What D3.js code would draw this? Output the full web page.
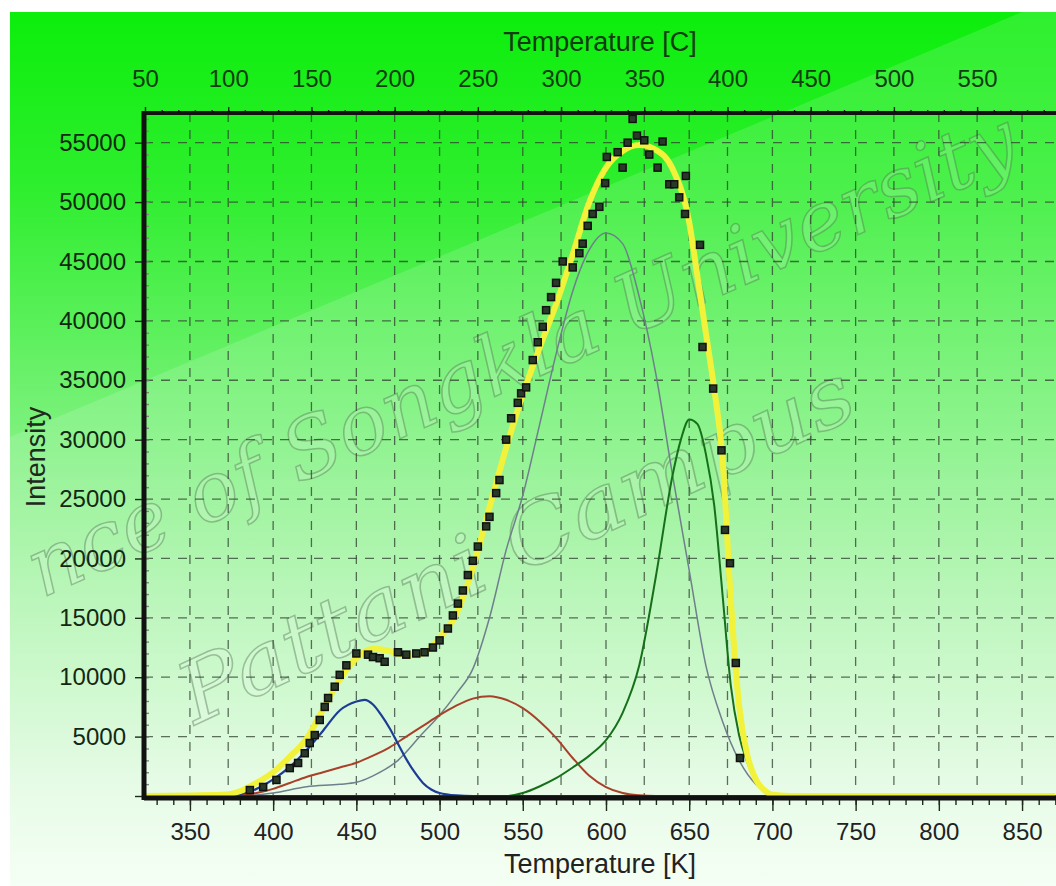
<!DOCTYPE html>
<html lang="en">
<head>
	<meta charset="UTF-8">
	<title>TL glow curve</title>
	<script src="https://d3js.org/d3.v7.min.js"></script>
	<style>
		body, html { margin: 0; padding: 0; background: #fff; overflow: hidden; }
		svg { display: block; }
		.tick-label { font-family: "Liberation Sans", Arial, sans-serif; font-size: 24px; }
		.title { font-family: "Liberation Sans", Arial, sans-serif; font-size: 27px; }
		.grid line { stroke: #2f3f2f; stroke-opacity: 0.75; stroke-width: 1.3; stroke-dasharray: 9,8; }
		.watermark { font-family: "DejaVu Serif", serif; font-style: italic; fill: #ffffff; fill-opacity: 0.14;
			stroke: #4f6f4f; stroke-opacity: 0.42; stroke-width: 1.5; }
	</style>
</head>
<body>
<div id="chart"></div>
<script>
	// tick values
	const kTicks = [350, 400, 450, 500, 550, 600, 650, 700, 750, 800, 850];
	const cTicks = [50, 100, 150, 200, 250, 300, 350, 400, 450, 500, 550];
	const yTicks = [5000, 10000, 15000, 20000, 25000, 30000, 35000, 40000, 45000, 50000, 55000];

	// measured points [K, intensity]
	const measured = [
		[386, 500], [394, 760], [402, 1350], [410, 2350], [415, 2780], [419, 3600], [422, 4460],
		[425, 5130], [428, 6400], [431, 7500], [433, 8250], [437, 9200], [440, 10200], [444, 11000],
		[450, 12000], [457, 11900], [460, 11700], [464, 11600], [467, 11300], [475, 12100], [480, 11900],
		[486, 12000], [491, 12100], [496, 12500], [500, 13100], [505, 14100], [508, 15200], [511, 16200],
		[514, 17300], [517, 18600], [520, 19800], [523, 21000], [528, 22700], [530, 23500], [534, 25500],
		[536, 26600], [540, 30000], [543, 31800], [547, 33100], [549, 33900], [552, 34400], [556, 36700],
		[559, 38200], [562, 39500], [564, 40900], [567, 42000], [570, 43200], [574, 45000], [580, 44500],
		[584, 45700], [586, 46500], [589, 48000], [592, 49000], [596, 49600], [599.5, 51600], [600.5, 53800],
		[607, 54200], [610, 52900], [613, 55000], [616, 57000], [618.6, 55600], [623, 55200], [626, 54000],
		[631, 52900], [634, 55100], [638, 51500], [641, 51500], [644, 50400], [647.5, 49000], [648, 52200],
		[656.5, 46400], [658, 37800], [664.4, 34300], [669.4, 29100], [671.5, 22400], [674.5, 19600],
		[678, 11200], [680.5, 3200]
	];

	// fitted sum
	const fitCurve = [
		[322, 0], [370, 100], [380, 400], [390, 1100], [400, 2000], [410, 3300], [420, 4800], [430, 7300],
		[440, 9800], [450, 11600], [460, 12400], [470, 12200], [480, 11800], [490, 12000], [500, 13300],
		[510, 15300], [520, 19200], [530, 24300], [540, 29300], [550, 33800], [560, 37700], [570, 41400],
		[580, 45600], [590, 50000], [600, 52900], [610, 54300], [620, 54800], [630, 54400], [640, 52800],
		[650, 48300], [655, 43700], [660, 39000], [665, 34300], [670, 28500], [675, 16500], [680, 7600],
		[685, 3400], [690, 1400], [695, 500], [700, 100], [710, 0], [870, 0]
	];

	// component peaks
	const peakBlue = [
		[322, 0], [370, 0], [380, 150], [390, 600], [400, 1400], [410, 2450], [420, 3850], [430, 5500],
		[440, 7200], [450, 7950], [455, 8100], [460, 7700], [465, 6800], [470, 5700], [475, 4400],
		[480, 3100], [485, 2000], [490, 1100], [495, 550], [500, 250], [510, 50], [520, 0], [870, 0]
	];
	const peakRed = [
		[322, 0], [375, 0], [380, 80], [390, 250], [400, 600], [410, 1100], [420, 1600], [430, 2000],
		[440, 2400], [450, 2800], [460, 3400], [470, 4100], [480, 5000], [490, 5900], [500, 6800],
		[510, 7600], [520, 8200], [530, 8400], [540, 8100], [550, 7400], [560, 6300], [570, 4900],
		[580, 3200], [590, 1700], [600, 750], [610, 250], [620, 60], [630, 0], [870, 0]
	];
	const peakGray = [
		[322, 0], [380, 0], [400, 250], [420, 780], [440, 980], [450, 1150], [460, 1700], [475, 3000],
		[490, 5300], [500, 6800], [510, 8600], [520, 10700], [530, 15000], [540, 20700], [550, 25300],
		[560, 31200], [570, 37200], [580, 42500], [590, 46000], [600, 47400], [610, 46500], [620, 42000],
		[630, 35500], [640, 27000], [650, 19000], [660, 11000], [670, 6300], [680, 3000], [690, 1000],
		[700, 200], [710, 0], [870, 0]
	];
	const peakGreen = [
		[322, 0], [540, 0], [550, 250], [560, 800], [570, 1500], [580, 2400], [590, 3400], [600, 4700],
		[610, 7000], [620, 11000], [630, 18500], [640, 27000], [645, 30000], [650, 31700], [655, 31300],
		[660, 28800], [665, 24500], [670, 17000], [675, 9300], [680, 5100], [685, 2800], [690, 1200],
		[695, 400], [700, 0], [870, 0]
	];

	const width = 1056, height = 886;
	const plot = { left: 144, top: 113, right: 1056, bottom: 796 };

	const x = d3.scaleLinear().domain([322.4, 870.4]).range([plot.left, plot.right]);
	const y = d3.scaleLinear().domain([0, 57500]).range([plot.bottom, plot.top]);
	const xc = d3.scaleLinear().domain([322.4 - 273, 870.4 - 273]).range([plot.left, plot.right]);

	const svg = d3.select("#chart").append("svg")
		.attr("width", width)
		.attr("height", height);

	// background: green fading to white, with a lighter glossy wedge
	const defs = svg.append("defs");
	const grad = defs.append("linearGradient").attr("id", "bg")
		.attr("x1", 0).attr("y1", 0).attr("x2", 0).attr("y2", 1);
	[["0%", "#0cee0c"], ["20%", "#2eee2e"], ["45%", "#74f174"], ["68%", "#b2f5b2"], ["88%", "#e2fbe2"], ["100%", "#f4fff4"]]
		.forEach(s => grad.append("stop").attr("offset", s[0]).attr("stop-color", s[1]));

	svg.append("rect").attr("width", width).attr("height", height).attr("fill", "#fff");
	svg.append("rect").attr("x", 10).attr("y", 12).attr("width", width - 10).attr("height", height - 12)
		.attr("fill", "url(#bg)");
	svg.append("path")
		.attr("d", "M10,437 L1022,12 L1056,12 L1056,886 L10,886 Z")
		.attr("fill", "#fff").attr("fill-opacity", 0.14);

	defs.append("clipPath").attr("id", "clip")
		.append("rect").attr("x", plot.left).attr("y", plot.top).attr("width", plot.right - plot.left).attr("height", plot.bottom - plot.top + 4);

	// watermark (only the part that shows in the frame)
	svg.append("text").attr("class", "watermark")
		.attr("transform", "translate(42,598) rotate(-24)")
		.attr("font-size", 82)
		.attr("textLength", 1075).attr("lengthAdjust", "spacingAndGlyphs")
		.text("nce of Songkla University");
	svg.append("text").attr("class", "watermark")
		.attr("transform", "translate(195,725) rotate(-25)")
		.attr("font-size", 84)
		.attr("textLength", 735).attr("lengthAdjust", "spacingAndGlyphs")
		.text("Pattani Campus");

	// grid
	const grid = svg.append("g").attr("class", "grid");
	grid.selectAll(".gy").data(yTicks).enter().append("line")
		.attr("x1", plot.left).attr("x2", plot.right)
		.attr("y1", d => y(d)).attr("y2", d => y(d));
	grid.selectAll(".gk").data(kTicks).enter().append("line")
		.attr("x1", d => x(d)).attr("x2", d => x(d))
		.attr("y1", plot.top).attr("y2", plot.bottom);
	grid.selectAll(".gc").data(cTicks.slice(1)).enter().append("line")
		.attr("x1", d => xc(d)).attr("x2", d => xc(d))
		.attr("y1", plot.top).attr("y2", plot.bottom);

	// axes
	const bottomMajor = svg.append("g").attr("transform", `translate(0,${plot.bottom + 2})`)
		.call(d3.axisBottom(x).tickValues(kTicks).tickSize(13).tickPadding(12));
	const bottomMinor = svg.append("g").attr("transform", `translate(0,${plot.bottom + 2})`)
		.call(d3.axisBottom(x).tickValues(d3.range(330, 871, 10)).tickSize(7).tickFormat(""));
	const topMajor = svg.append("g").attr("transform", `translate(0,${plot.top})`)
		.call(d3.axisTop(xc).tickValues(cTicks).tickSize(6).tickPadding(20));
	const topMinor = svg.append("g").attr("transform", `translate(0,${plot.top})`)
		.call(d3.axisTop(xc).tickValues(d3.range(60, 598, 10)).tickSize(3).tickFormat(""));
	const leftMajor = svg.append("g").attr("transform", `translate(${plot.left},0)`)
		.call(d3.axisLeft(y).tickValues([0].concat(yTicks)).tickSize(9).tickPadding(9)
			.tickFormat(d => d === 0 ? "" : d));
	const leftMinor = svg.append("g").attr("transform", `translate(${plot.left},0)`)
		.call(d3.axisRight(y).tickValues(d3.range(1000, 57001, 1000)).tickSize(5).tickFormat(""));

	[bottomMajor, bottomMinor, topMajor, topMinor, leftMajor, leftMinor].forEach(g => {
		g.select(".domain").remove();
		g.selectAll(".tick line").attr("stroke", "#1e2a1e").attr("stroke-width", 1.4);
		g.selectAll(".tick text").attr("class", "tick-label");
	});
	leftMinor.selectAll(".tick line").attr("stroke", "#7a8a7a");
	bottomMajor.selectAll(".tick text").attr("fill", "#222");
	topMajor.selectAll(".tick text").attr("fill", "#123d12");
	leftMajor.selectAll(".tick text").attr("fill", "#132813");

	// curves
	const line = d3.line().x(d => x(d[0])).y(d => y(d[1])).curve(d3.curveMonotoneX);
	const curves = svg.append("g").attr("clip-path", "url(#clip)");

	// thick frame lines
	svg.append("line").attr("x1", plot.left).attr("x2", plot.right).attr("y1", plot.top).attr("y2", plot.top)
		.attr("stroke", "#111").attr("stroke-width", 4);
	svg.append("line").attr("x1", plot.left).attr("x2", plot.right).attr("y1", plot.bottom + 2).attr("y2", plot.bottom + 2)
		.attr("stroke", "#111").attr("stroke-width", 5);
	svg.append("line").attr("x1", plot.left).attr("x2", plot.left).attr("y1", plot.top - 2).attr("y2", plot.bottom + 4)
		.attr("stroke", "#111").attr("stroke-width", 5);

	const series = [
		{ data: peakGray, color: "#6f7f8c", w: 1.5 },
		{ data: peakRed, color: "#a8402a", w: 2 },
		{ data: peakGreen, color: "#16701a", w: 2 },
		{ data: peakBlue, color: "#1c3c96", w: 2.2 },
		{ data: fitCurve, color: "#f2f23a", w: 6 }
	];
	curves.selectAll(".curve").data(series).enter().append("path")
		.attr("class", "curve")
		.attr("d", d => line(d.data))
		.attr("fill", "none")
		.attr("stroke", d => d.color)
		.attr("stroke-width", d => d.w)
		.attr("stroke-linejoin", "round");

	// measured points
	svg.append("g").selectAll("rect").data(measured).enter().append("rect")
		.attr("x", d => x(d[0]) - 3.5).attr("y", d => y(d[1]) - 3.5)
		.attr("width", 7).attr("height", 7)
		.attr("fill", "#2a3a2a").attr("stroke", "#111").attr("stroke-width", 1.5);

	// titles
	svg.append("text").attr("class", "title").attr("x", 600).attr("y", 51)
		.attr("text-anchor", "middle").attr("fill", "#123d12").text("Temperature [C]");
	svg.append("text").attr("class", "title").attr("x", 600).attr("y", 873)
		.attr("text-anchor", "middle").attr("fill", "#222").text("Temperature [K]");
	svg.append("text").attr("class", "title")
		.attr("transform", "translate(45,457) rotate(-90)")
		.attr("text-anchor", "middle").attr("fill", "#1e2a1e").text("Intensity");
</script>
</body>
</html>
